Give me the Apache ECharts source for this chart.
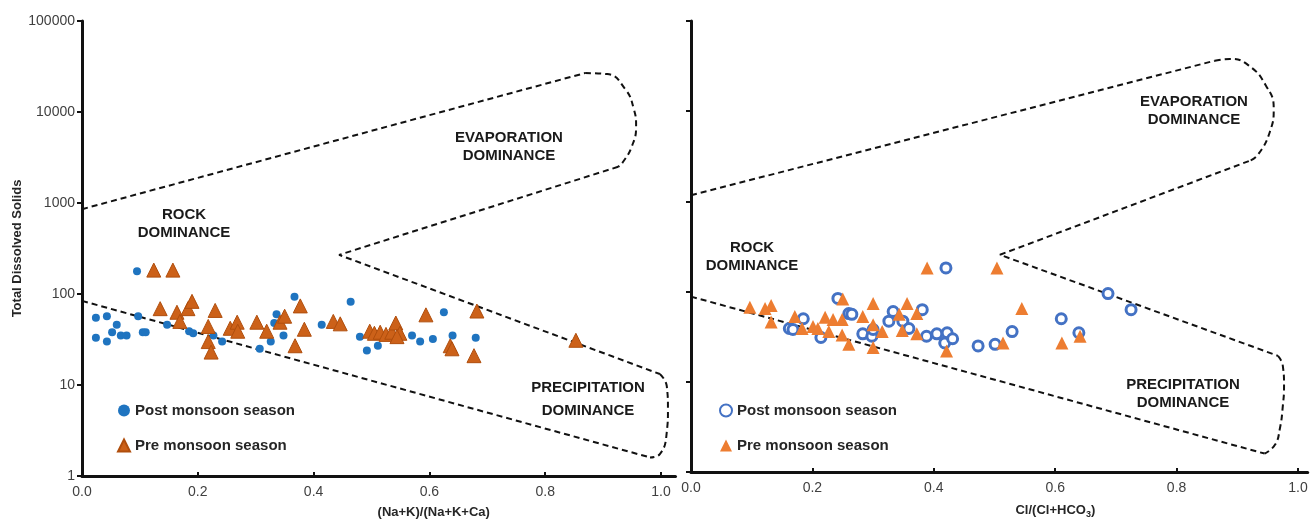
<!DOCTYPE html>
<html>
<head>
<meta charset="utf-8">
<script src="https://cdn.jsdelivr.net/npm/echarts@6/dist/echarts.min.js"></script>
<style>
  html, body { margin: 0; padding: 0; background: #fff; }
  #chart { width: 1312px; height: 524px; }
</style>
</head>
<body>
<div id="chart"></div>
<script>
// ---- data (x ratio, TDS) ----
var postLeft = [
  [0.024, 55], [0.024, 33], [0.043, 57], [0.043, 30], [0.052, 38], [0.060, 46],
  [0.067, 35], [0.077, 35], [0.095, 178], [0.097, 57], [0.105, 38], [0.110, 38],
  [0.147, 46], [0.185, 39], [0.192, 37], [0.227, 35], [0.242, 30], [0.307, 25],
  [0.326, 30], [0.332, 48], [0.336, 60], [0.348, 35], [0.367, 93], [0.414, 46],
  [0.464, 82], [0.480, 34], [0.492, 24], [0.511, 27], [0.570, 35], [0.584, 30],
  [0.606, 32], [0.625, 63], [0.640, 35], [0.680, 33]
];
var preLeft = [
  [0.124, 183], [0.157, 183], [0.135, 69], [0.164, 63], [0.169, 50], [0.183, 69],
  [0.190, 83], [0.218, 44], [0.218, 30], [0.223, 23], [0.230, 66], [0.256, 42],
  [0.268, 49], [0.269, 39], [0.302, 49], [0.319, 39], [0.342, 49], [0.350, 57],
  [0.368, 27], [0.377, 74], [0.384, 41], [0.434, 50], [0.446, 47], [0.497, 39],
  [0.505, 37], [0.515, 38], [0.525, 36], [0.535, 38], [0.542, 48], [0.549, 37],
  [0.544, 34], [0.594, 59], [0.636, 27], [0.639, 25], [0.677, 21], [0.682, 65],
  [0.853, 31]
];
var postRight = [
  [0.162, 39], [0.168, 38], [0.185, 50], [0.214, 31], [0.242, 84], [0.260, 57],
  [0.265, 56], [0.283, 34], [0.298, 32], [0.300, 38], [0.326, 47], [0.333, 60],
  [0.349, 47], [0.359, 39], [0.381, 63], [0.388, 32], [0.405, 34], [0.420, 183],
  [0.422, 35], [0.418, 27], [0.431, 30], [0.473, 25], [0.501, 26], [0.529, 36],
  [0.610, 50], [0.639, 35], [0.687, 95], [0.725, 63]
];
var preRight = [
  [0.097, 67], [0.122, 65], [0.132, 70], [0.132, 46], [0.171, 53], [0.183, 39],
  [0.201, 41], [0.209, 39], [0.221, 52], [0.234, 49], [0.249, 49], [0.227, 36],
  [0.249, 33], [0.250, 83], [0.260, 26], [0.283, 53], [0.300, 74], [0.300, 43],
  [0.300, 24], [0.315, 36], [0.343, 56], [0.356, 74], [0.348, 37], [0.372, 57],
  [0.372, 34], [0.389, 183], [0.421, 22], [0.504, 183], [0.514, 27], [0.545, 65],
  [0.611, 27], [0.641, 32]
];

// Gibbs boundary outlines
var leftUpper = [[0, 855], [0.869, 26800]];
var leftEvapCurve = [[0.869, 26800], [0.907, 26100], [0.938, 17900], [0.953, 10800], [0.957, 7000], [0.950, 4240], [0.934, 2800], [0.926, 2500]];
var leftNotch = [[0.926, 2500], [0.444, 269], [0.998, 13.2]];
var leftPrecipCurve = [[0.998, 13.2], [1.010, 9.7], [1.012, 5.4], [1.010, 3.05], [0.998, 1.74], [0.981, 1.6]];
var leftLower = [[0, 84], [0.981, 1.6]];

var rightUpper = [[0, 1170], [0.863, 36300]];
var rightEvapCurve = [[0.863, 36300], [0.888, 38000], [0.919, 32000], [0.947, 19300], [0.960, 10800], [0.954, 6000], [0.934, 3300], [0.919, 2800]];
var rightNotch = [[0.919, 2800], [0.509, 256], [0.967, 19.4]];
var rightPrecipCurve = [[0.967, 19.4], [0.975, 15], [0.977, 9], [0.975, 5.4], [0.970, 3.0], [0.962, 2.0], [0.945, 1.6]];
var rightLower = [[0, 88], [0.945, 1.6]];

var xTicks = [0, 0.2, 0.4, 0.6, 0.8, 1.0];
var legendNames = {
  postL: 'Post monsoon season', preL: 'Pre monsoon season',
  postR: 'Post monsoon season', preR: 'Pre monsoon season'
};

var FONT = "'Liberation Sans', Arial, sans-serif";

function dashed(data, gi, smooth) {
  return {
    type: 'line', xAxisIndex: gi, yAxisIndex: gi, data: data,
    smooth: smooth ? 0.5 : false, symbol: 'none', silent: true, clip: false,
    lineStyle: { color: '#111', width: 2, type: [6, 4] },
    z: 1
  };
}

// axis runs a little past 1.0 like the original; ticks only at xTicks
function xAxisFor(gi, name, pad, maxX) {
  return {
    type: 'value', gridIndex: gi, min: 0, max: maxX,
    name: name, nameLocation: 'middle', nameGap: 30,
    nameTextStyle: {
      fontFamily: FONT, fontWeight: 'bold', fontSize: 13, color: '#262626',
      padding: [0, 0, 0, pad],
      rich: {
        a: { fontFamily: FONT, fontWeight: 'bold', fontSize: 13, color: '#262626' },
        s: { fontFamily: FONT, fontWeight: 'bold', fontSize: 9, color: '#262626', verticalAlign: 'bottom', padding: [8, 0, 0, 0] }
      }
    },
    axisLine: { lineStyle: { color: '#111', width: 3 } },
    axisTick: { inside: true, length: 4, customValues: xTicks, lineStyle: { color: '#111', width: 2 } },
    axisLabel: {
      customValues: xTicks,
      fontFamily: FONT, fontSize: 14, color: '#404040', margin: 9,
      formatter: function (v) { return v.toFixed(1); }
    },
    splitLine: { show: false }
  };
}

function yAxisFor(gi, showLabels) {
  return {
    type: 'log', logBase: 10, gridIndex: gi, min: 1, max: 100000,
    name: showLabels ? 'Total Dissolved Solids' : '',
    nameLocation: 'middle', nameGap: 54,
    nameTextStyle: { fontFamily: FONT, fontWeight: 'bold', fontSize: 13, color: '#262626' },
    axisLine: { show: true, lineStyle: { color: '#111', width: 3 } },
    axisTick: { show: true, inside: false, length: 5, lineStyle: { color: '#111', width: 2 } },
    axisLabel: {
      show: showLabels, fontFamily: FONT, fontSize: 14, color: '#404040', margin: 7,
      formatter: function (v) { return String(Math.round(v)); }
    },
    splitLine: { show: false }
  };
}

function regionText(x, y, lines, lh) {
  return {
    type: 'text', x: x, y: y, silent: true,
    style: {
      text: lines, fill: '#1a1a1a', font: 'bold 15px ' + FONT,
      align: 'center', verticalAlign: 'top', lineHeight: lh
    }
  };
}

var legendText = {
  fontFamily: FONT, fontWeight: 'bold', fontSize: 15, color: '#262626'
};

var chart = echarts.init(document.getElementById('chart'), null, { renderer: 'canvas' });
chart.setOption({
  animation: false,
  backgroundColor: '#fff',
  grid: [
    { left: 82, top: 21, width: 579 * 1.025, height: 456 },
    { left: 691, top: 21, width: 607 * 1.016, height: 456 }
  ],
  xAxis: [
    xAxisFor(0, '(Na+K)/(Na+K+Ca)', 110, 1.025),
    xAxisFor(1, '{a|Cl/(Cl+HCO}{s|3}{a|)}', 112, 1.016)
  ],
  yAxis: [yAxisFor(0, true), yAxisFor(1, false)],
  legend: [
    {
      data: ['postL', 'preL'], orient: 'vertical', left: 112, top: 398,
      itemGap: 20, itemWidth: 12, itemHeight: 12,
      textStyle: legendText,
      formatter: function (n) { return legendNames[n]; }
    },
    {
      data: ['postR', 'preR'], orient: 'vertical', left: 714, top: 398,
      itemGap: 20, itemWidth: 12, itemHeight: 12,
      textStyle: legendText,
      formatter: function (n) { return legendNames[n]; }
    }
  ],
  graphic: [
    regionText(509, 129, 'EVAPORATION\nDOMINANCE', 18),
    regionText(184, 206, 'ROCK\nDOMINANCE', 18),
    regionText(588, 376, 'PRECIPITATION\nDOMINANCE', 23),
    regionText(1194, 93, 'EVAPORATION\nDOMINANCE', 18),
    regionText(752, 239, 'ROCK\nDOMINANCE', 18),
    regionText(1183, 376, 'PRECIPITATION\nDOMINANCE', 18)
  ],
  series: [
    dashed(leftUpper, 0, false),
    dashed(leftEvapCurve, 0, true),
    dashed(leftNotch, 0, false),
    dashed(leftPrecipCurve, 0, true),
    dashed(leftLower, 0, false),
    dashed(rightUpper, 1, false),
    dashed(rightEvapCurve, 1, true),
    dashed(rightNotch, 1, false),
    dashed(rightPrecipCurve, 1, true),
    dashed(rightLower, 1, false),
    {
      name: 'postL', type: 'scatter', xAxisIndex: 0, yAxisIndex: 0, data: postLeft,
      symbol: 'circle', symbolSize: 8,
      itemStyle: { color: '#1f74c0', opacity: 1 }, z: 3
    },
    {
      name: 'preL', type: 'scatter', xAxisIndex: 0, yAxisIndex: 0, data: preLeft,
      symbol: 'triangle', symbolSize: 14,
      itemStyle: { color: '#cc6119', borderColor: '#b04e0d', borderWidth: 1, opacity: 1 }, z: 4
    },
    {
      name: 'postR', type: 'scatter', xAxisIndex: 1, yAxisIndex: 1, data: postRight,
      symbol: 'circle', symbolSize: 10,
      itemStyle: { color: '#ffffff', borderColor: '#4472c4', borderWidth: 3, opacity: 1 }, z: 3
    },
    {
      name: 'preR', type: 'scatter', xAxisIndex: 1, yAxisIndex: 1, data: preRight,
      symbol: 'triangle', symbolSize: 13,
      itemStyle: { color: '#ed7d31', opacity: 1 }, z: 4
    }
  ]
});
</script>
</body>
</html>
